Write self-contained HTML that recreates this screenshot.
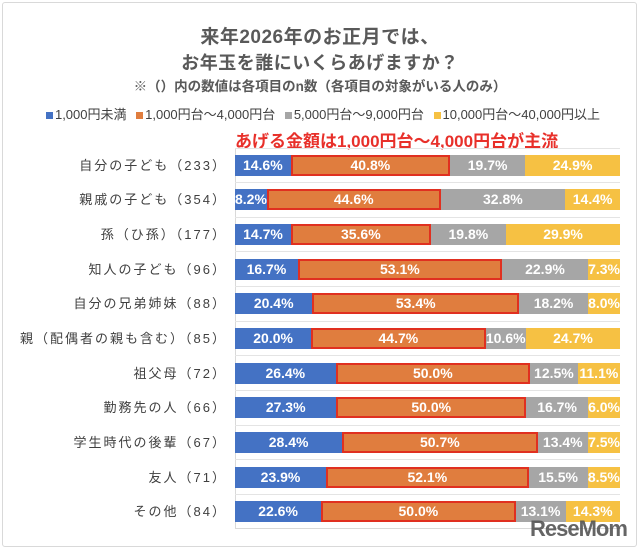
<!DOCTYPE html>
<html><head><meta charset="utf-8"><style>
body{margin:0;width:640px;height:549px;background:#fff;font-family:"Liberation Sans","Noto Sans CJK JP",sans-serif;position:relative;overflow:hidden}
.frame{position:absolute;left:2px;top:2px;width:633px;height:543px;border:1px solid #d9d9d9;border-radius:3px}
.t{position:absolute;left:0;width:640px;text-align:center;color:#595959;font-weight:bold;white-space:nowrap}
.leg{position:absolute;top:104px;left:0;width:640px;text-align:center;font-size:13px;color:#404040;white-space:nowrap}
.leg span.s{display:inline-block;width:7px;height:7px;margin:0 2px 0 6px}
.ann{position:absolute;left:235px;top:127px;font-size:17px;font-weight:bold;color:#e8302a;white-space:nowrap}
.plot{position:absolute;left:235px;top:148px;width:385px;height:380px;border-left:1px solid #d9d9d9;border-bottom:1px solid #d9d9d9}
.row{position:absolute;left:235px;width:385px;height:21px;display:flex}
.row div{height:21px;line-height:21px;color:#fff;font-size:14px;font-weight:bold;text-align:center;box-sizing:border-box;overflow:visible;white-space:nowrap}
.b{background:#4472c4}.o{background:#e07d3e;border:2px solid #e03020;line-height:17px!important}.g{background:#a6a6a6}.y{background:#f6c143}
.lab{position:absolute;right:413px;font-size:13px;color:#404040;letter-spacing:2px;white-space:nowrap;line-height:21px}
.gl{position:absolute;left:235px;width:385px;height:1px;background:#e4e4e4}
</style></head><body>
<div class="frame"></div>
<div class="t" style="top:22px;font-size:19px;letter-spacing:0.5px">来年2026年のお正月では、</div>
<div class="t" style="top:49px;font-size:18px;letter-spacing:0.5px">お年玉を誰にいくらあげますか？</div>
<div class="t" style="top:75px;font-size:13.5px">※（）内の数値は各項目のn数（各項目の対象がいる人のみ）</div>
<div class="leg"><span class="s" style="background:#4472c4"></span>1,000円未満 <span class="s" style="background:#e07d3e"></span>1,000円台～4,000円台 <span class="s" style="background:#a6a6a6"></span>5,000円台～9,000円台 <span class="s" style="background:#f6c143"></span>10,000円台～40,000円以上</div>
<div class="ann">あげる金額は1,000円台～4,000円台が主流</div>
<div class="plot"></div>
<div class="gl" style="top:148px"></div><div class="gl" style="top:182px"></div><div class="gl" style="top:217px"></div><div class="gl" style="top:251px"></div><div class="gl" style="top:286px"></div><div class="gl" style="top:321px"></div><div class="gl" style="top:355px"></div><div class="gl" style="top:390px"></div><div class="gl" style="top:425px"></div><div class="gl" style="top:459px"></div><div class="gl" style="top:494px"></div>

<div class="lab" style="top:155px">自分の子ども（233）</div>
<div class="row" style="top:155px"><div class="b" style="flex:14.6">14.6%</div><div class="o" style="flex:40.8">40.8%</div><div class="g" style="flex:19.7">19.7%</div><div class="y" style="flex:24.9">24.9%</div></div>
<div class="lab" style="top:189px">親戚の子ども（354）</div>
<div class="row" style="top:189px"><div class="b" style="flex:8.2">8.2%</div><div class="o" style="flex:44.6">44.6%</div><div class="g" style="flex:32.8">32.8%</div><div class="y" style="flex:14.4">14.4%</div></div>
<div class="lab" style="top:224px">孫（ひ孫）（177）</div>
<div class="row" style="top:224px"><div class="b" style="flex:14.7">14.7%</div><div class="o" style="flex:35.6">35.6%</div><div class="g" style="flex:19.8">19.8%</div><div class="y" style="flex:29.9">29.9%</div></div>
<div class="lab" style="top:259px">知人の子ども（96）</div>
<div class="row" style="top:259px"><div class="b" style="flex:16.7">16.7%</div><div class="o" style="flex:53.1">53.1%</div><div class="g" style="flex:22.9">22.9%</div><div class="y" style="flex:7.3">7.3%</div></div>
<div class="lab" style="top:293px">自分の兄弟姉妹（88）</div>
<div class="row" style="top:293px"><div class="b" style="flex:20.4">20.4%</div><div class="o" style="flex:53.4">53.4%</div><div class="g" style="flex:18.2">18.2%</div><div class="y" style="flex:8.0">8.0%</div></div>
<div class="lab" style="top:328px">親（配偶者の親も含む）（85）</div>
<div class="row" style="top:328px"><div class="b" style="flex:20.0">20.0%</div><div class="o" style="flex:44.7">44.7%</div><div class="g" style="flex:10.6">10.6%</div><div class="y" style="flex:24.7">24.7%</div></div>
<div class="lab" style="top:363px">祖父母（72）</div>
<div class="row" style="top:363px"><div class="b" style="flex:26.4">26.4%</div><div class="o" style="flex:50.0">50.0%</div><div class="g" style="flex:12.5">12.5%</div><div class="y" style="flex:11.1">11.1%</div></div>
<div class="lab" style="top:397px">勤務先の人（66）</div>
<div class="row" style="top:397px"><div class="b" style="flex:27.3">27.3%</div><div class="o" style="flex:50.0">50.0%</div><div class="g" style="flex:16.7">16.7%</div><div class="y" style="flex:6.0">6.0%</div></div>
<div class="lab" style="top:432px">学生時代の後輩（67）</div>
<div class="row" style="top:432px"><div class="b" style="flex:28.4">28.4%</div><div class="o" style="flex:50.7">50.7%</div><div class="g" style="flex:13.4">13.4%</div><div class="y" style="flex:7.5">7.5%</div></div>
<div class="lab" style="top:467px">友人（71）</div>
<div class="row" style="top:467px"><div class="b" style="flex:23.9">23.9%</div><div class="o" style="flex:52.1">52.1%</div><div class="g" style="flex:15.5">15.5%</div><div class="y" style="flex:8.5">8.5%</div></div>
<div class="lab" style="top:501px">その他（84）</div>
<div class="row" style="top:501px"><div class="b" style="flex:22.6">22.6%</div><div class="o" style="flex:50.0">50.0%</div><div class="g" style="flex:13.1">13.1%</div><div class="y" style="flex:14.3">14.3%</div></div>

<div style="position:absolute;left:530px;top:516px;font-size:22px;font-weight:bold;color:#555;letter-spacing:-1px;opacity:.9">ReseMom</div>
</body></html>
